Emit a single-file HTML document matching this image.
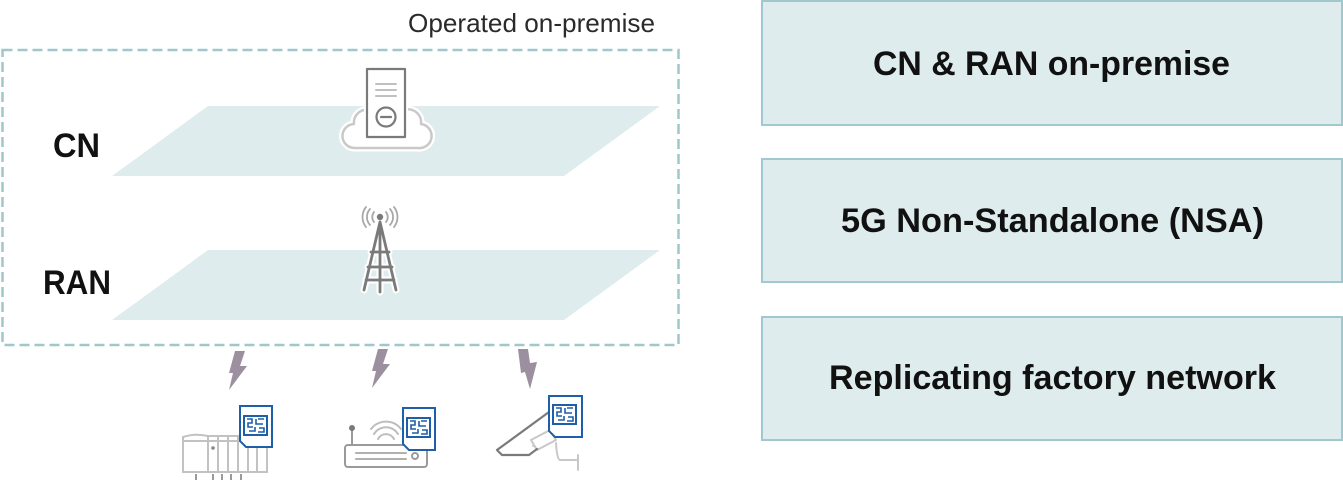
<!DOCTYPE html>
<html>
<head>
<meta charset="utf-8">
<style>
html,body{margin:0;padding:0;background:#fff;}
svg{display:block;}
text{font-family:"Liberation Sans","Noto Sans CJK JP",sans-serif;}
</style>
</head>
<body>
<svg width="1343" height="484" viewBox="0 0 1343 484" xmlns="http://www.w3.org/2000/svg">
  <rect x="0" y="0" width="1343" height="484" fill="#ffffff"/>

  <!-- Operated on-premise label -->
  <text x="408" y="32" font-size="26" fill="#2a2a2a" textLength="247" lengthAdjust="spacingAndGlyphs">Operated on-premise</text>

  <!-- Dashed boundary -->
  <rect x="2.5" y="50" width="676" height="295" fill="none" stroke="#9fc7cc" stroke-width="2.5" stroke-dasharray="10 5"/>

  <!-- Planes -->
  <polygon points="208,106 660,106 564,176 112,176" fill="#deecee"/>
  <polygon points="208,250 660,250 564,320 112,320" fill="#deecee"/>

  <!-- Labels -->
  <text x="53" y="157" font-size="34" font-weight="bold" fill="#111" textLength="47" lengthAdjust="spacingAndGlyphs">CN</text>
  <text x="43" y="294" font-size="34" font-weight="bold" fill="#111" textLength="68" lengthAdjust="spacingAndGlyphs">RAN</text>

  <!-- Cloud + server icon -->
  <g stroke-linejoin="round" stroke-linecap="round">
    <path d="M355,148 H418 A12,12 0 0 0 421,124 A13,13 0 0 0 404,110 L370,110 A13,13 0 0 0 354,124 A12,12 0 0 0 355,148 Z" fill="#fff" stroke="#fff" stroke-width="7"/>
    <path d="M355,148 H418 A12,12 0 0 0 421,124 A13,13 0 0 0 404,110 L370,110 A13,13 0 0 0 354,124 A12,12 0 0 0 355,148 Z" fill="#fff" stroke="#c9c9c9" stroke-width="2.5"/>
    <rect x="367" y="69" width="38" height="68" fill="#fff" stroke="#fff" stroke-width="6"/>
    <rect x="367" y="69" width="38" height="68" fill="#fff" stroke="#7a7a7a" stroke-width="2.2"/>
    <line x1="376" y1="84" x2="396" y2="84" stroke="#c0c0c0" stroke-width="2"/>
    <line x1="376" y1="90" x2="396" y2="90" stroke="#c0c0c0" stroke-width="2"/>
    <line x1="376" y1="96" x2="396" y2="96" stroke="#c0c0c0" stroke-width="2"/>
    <circle cx="386" cy="117" r="9.5" fill="#fff" stroke="#7a7a7a" stroke-width="2.2"/>
    <line x1="381" y1="117" x2="391" y2="117" stroke="#7a7a7a" stroke-width="2.2"/>
  </g>

  <!-- Tower icon -->
  <g fill="none" stroke-linecap="round" stroke-linejoin="round">
    <g stroke="#fff" stroke-width="7">
      <path d="M380,222 L364,290 M380,222 L396,290 M380,222 L380,292 M371,252 H389 M368,267 H392 M366,280 H394"/>
    </g>
    <g stroke="#7a7a7a" stroke-width="2.8">
      <path d="M380,222 L364,290 M380,222 L396,290 M380,222 L380,292 M371,252 H389 M368,267 H392 M366,280 H394"/>
    </g>
    <g stroke="#a8a8a8" stroke-width="1.8">
      <path d="M374,212 A8,8 0 0 0 374,222"/>
      <path d="M370,209 A12,12 0 0 0 370,225"/>
      <path d="M366,207 A16,16 0 0 0 366,227"/>
      <path d="M386,212 A8,8 0 0 1 386,222"/>
      <path d="M390,209 A12,12 0 0 1 390,225"/>
      <path d="M394,207 A16,16 0 0 1 394,227"/>
    </g>
    <circle cx="380" cy="217" r="3.2" fill="#7a7a7a" stroke="none"/>
  </g>

  <!-- Lightning bolts -->
  <g fill="#9b8fa0">
    <polygon points="235,351 245,351 240,366 247,366 229,390 233,373 229,373"/>
    <polygon points="378,349 388,349 383,364 390,364 372,388 376,371 372,371"/>
    <polygon points="518,349 528,349 530,363 537,362 530,389 525,372 521,373"/>
  </g>

  <!-- Device 1: PLC rack -->
  <g fill="none" stroke="#c2c2c2" stroke-width="2">
    <path d="M183,437 Q195,433 208,436 L267,436 L267,472 L183,472 Z"/>
    <line x1="183" y1="441" x2="267" y2="441"/>
    <line x1="208" y1="436" x2="208" y2="472"/>
    <line x1="218" y1="436" x2="218" y2="472"/>
    <line x1="228" y1="436" x2="228" y2="472"/>
    <line x1="238" y1="436" x2="238" y2="472"/>
    <line x1="248" y1="436" x2="248" y2="472"/>
    <line x1="257" y1="436" x2="257" y2="472"/>
    <g stroke="#9a9a9a">
      <line x1="196" y1="474" x2="196" y2="480"/>
      <line x1="213" y1="474" x2="213" y2="480"/>
      <line x1="222" y1="474" x2="222" y2="480"/>
      <line x1="231" y1="474" x2="231" y2="480"/>
      <line x1="241" y1="474" x2="241" y2="480"/>
    </g>
  </g>
  <circle cx="213" cy="448" r="1.8" fill="#888"/>

  <!-- Device 2: router -->
  <g fill="none" stroke="#9a9a9a" stroke-width="2" stroke-linecap="round">
    <rect x="345" y="445" width="82" height="22" rx="3" fill="#fff"/>
    <line x1="352" y1="430" x2="352" y2="445"/>
    <line x1="356" y1="453" x2="406" y2="453" stroke="#b0b0b0"/>
    <line x1="356" y1="459" x2="406" y2="459" stroke="#b0b0b0"/>
    <circle cx="415" cy="456" r="3"/>
    <path d="M378,439 A9,9 0 0 1 394,439" stroke="#bdbdbd"/>
    <path d="M374,434 A14,14 0 0 1 398,434" stroke="#bdbdbd"/>
    <path d="M371,429 A19,19 0 0 1 401,429" stroke="#bdbdbd"/>
  </g>
  <circle cx="352" cy="428" r="3" fill="#7a7a7a"/>

  <!-- Device 3: camera -->
  <g fill="none" stroke-linejoin="round" stroke-linecap="round">
    <path d="M533,446 L552,436 M556,443 Q557,460 560,460 L578,460 M578,455 L578,470" stroke="#c8c8c8" stroke-width="2"/>
    <path d="M531,440 L550,430 L556,440 L537,450 Z" stroke="#c8c8c8" stroke-width="2" fill="#fff"/>
    <path d="M497,450 L549,412 M497,450 L502,455 L529,455 L537,449" stroke="#7a7a7a" stroke-width="2.2"/>
  </g>

  <!-- SIM cards -->
  <g>
    <g>
      <path d="M240,406 H272 V447 H246 L240,441 Z" fill="#fff" stroke="#1f5ea8" stroke-width="2"/>
      <rect x="244" y="416" width="23" height="19" fill="#fff" stroke="#1f5ea8" stroke-width="2"/>
      <path d="M247,419 H252 V423 H248 V427 H253 M249,431 H255 V427 M256,419 V424 H263 M258,419 H264 M259,428 H264 V432 H258" fill="none" stroke="#1f5ea8" stroke-width="1.6"/>
    </g>
    <g>
      <path d="M403,408 H435 V450 H409 L403,444 Z" fill="#fff" stroke="#1f5ea8" stroke-width="2"/>
      <rect x="407" y="418" width="23" height="19" fill="#fff" stroke="#1f5ea8" stroke-width="2"/>
      <path d="M410,421 H415 V425 H411 V429 H416 M412,433 H418 V429 M419,421 V426 H426 M421,421 H427 M422,430 H427 V434 H421" fill="none" stroke="#1f5ea8" stroke-width="1.6"/>
    </g>
    <g>
      <path d="M549,396 H582 V437 H555 L549,431 Z" fill="#fff" stroke="#1f5ea8" stroke-width="2"/>
      <rect x="553" y="405" width="23" height="19" fill="#fff" stroke="#1f5ea8" stroke-width="2"/>
      <path d="M556,408 H561 V412 H557 V416 H562 M558,420 H564 V416 M565,408 V413 H572 M567,408 H573 M568,417 H573 V421 H567" fill="none" stroke="#1f5ea8" stroke-width="1.6"/>
    </g>
  </g>

  <!-- Right boxes -->
  <rect x="762" y="1" width="580" height="124" fill="#deecee" stroke="#a0c8ce" stroke-width="2"/>
  <rect x="762" y="159" width="580" height="123" fill="#deecee" stroke="#a0c8ce" stroke-width="2"/>
  <rect x="762" y="317" width="580" height="123" fill="#deecee" stroke="#a0c8ce" stroke-width="2"/>

  <text x="873" y="75" font-size="34" font-weight="bold" fill="#111" textLength="357" lengthAdjust="spacingAndGlyphs">CN &amp; RAN on-premise</text>
  <text x="841" y="232" font-size="34" font-weight="bold" fill="#111" textLength="423" lengthAdjust="spacingAndGlyphs">5G Non-Standalone (NSA)</text>
  <text x="829" y="389" font-size="34" font-weight="bold" fill="#111" textLength="447" lengthAdjust="spacingAndGlyphs">Replicating factory network</text>
</svg>
</body>
</html>
